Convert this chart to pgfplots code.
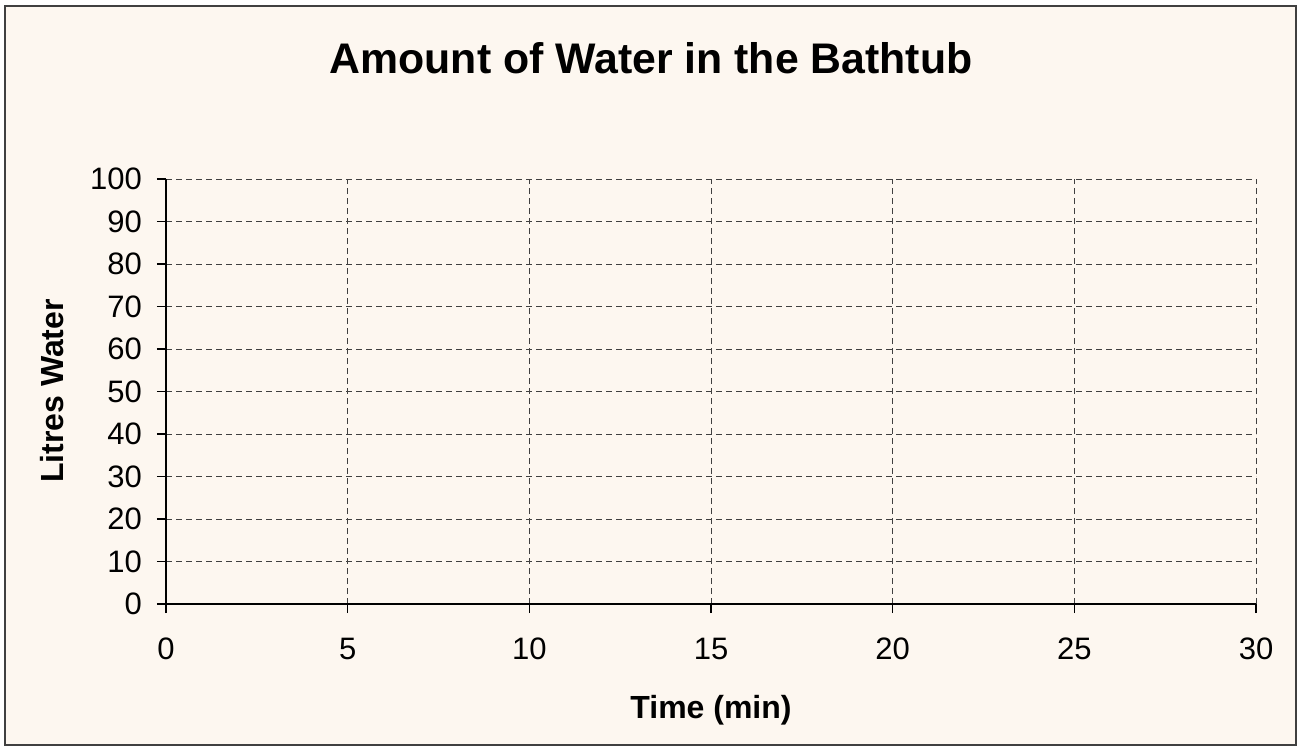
\documentclass[border=0pt]{standalone}
\usepackage{pgfplots}
\pgfplotsset{compat=1.18}
\usepackage{fontspec}
\setmainfont{Liberation Sans}
\definecolor{cream}{RGB}{253,247,240}
\definecolor{gridgray}{RGB}{64,64,64}
\begin{document}
\begin{tikzpicture}[x=1pt,y=1pt]
\path[use as bounding box, fill=white] (0,0) rectangle (650,375.5);
\draw[fill=cream, draw=black!75, line width=0.7pt] (2.5,3) rectangle (648,372.5);
\begin{axis}[
  at={(83pt,73.5pt)}, anchor=south west,
  scale only axis, width=545pt, height=212.5pt,
  xmin=0, xmax=30, ymin=0, ymax=100,
  xtick={0,5,...,30}, ytick={0,10,...,100},
  axis x line*=bottom, axis y line*=left,
  axis line style={-, line width=0.75pt, black},
  tick align=outside, major tick length=4.5pt,
  tick style={line width=0.6pt, black},
  grid=major,
  major grid style={dash pattern=on 3pt off 2pt, line width=0.5pt, gridgray},
  /pgf/number format/assume math mode=true,
  tick label style={font=\fontsize{15.5}{18}\selectfont},
  xticklabel style={anchor=center, yshift=-18pt},
  yticklabel style={anchor=east, xshift=-4pt},
  xlabel={Time (min)}, ylabel={Litres Water},
  label style={font=\fontsize{16}{19}\selectfont\bfseries},
  xlabel style={at={(axis description cs:0.5,-0.2494)}, anchor=center},
  ylabel style={at={(axis description cs:-0.1046,0.5012)}, anchor=center, rotate=0},
  title={Amount of Water in the Bathtub},
  title style={at={(axis description cs:0.445,1.2565)}, anchor=center, font=\fontsize{21.4}{25}\selectfont\bfseries},
]
\addplot[draw=none] coordinates {(0,0) (30,100)};
\end{axis}
\end{tikzpicture}
\end{document}
